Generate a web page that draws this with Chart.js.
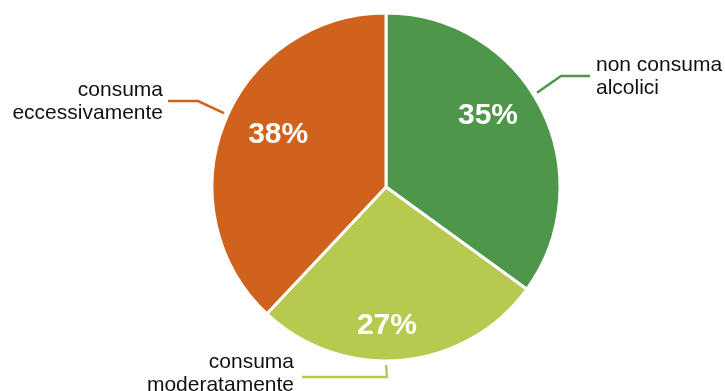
<!DOCTYPE html>
<html>
<head>
<meta charset="utf-8">
<script src="https://cdn.jsdelivr.net/npm/chart.js@4"></script>
<style>
  html, body { margin: 0; padding: 0; background: #fff; }
  #wrap { width: 725px; height: 391px; position: relative; }
</style>
</head>
<body>
<div id="wrap"><canvas id="torta"></canvas></div>
<script>
// dati
var categorie = [['non consuma', 'alcolici'], ['consuma', 'moderatamente'], ['consuma', 'eccessivamente']];
var valori = [35, 27, 38];
var colori = ['#4e974a', '#b8c950', '#d1621e'];

// posizione delle percentuali: spostamento angolare (gradi) e frazione del raggio
var posPercento = [[-8.5, 0.72], [5, 0.79], [4.5, 0.69]];

// richiami esterni, coordinate relative al centro della torta
// ang = punto di partenza sul bordo, gomito, fine, testo (x, baseline riga 1, allineamento)
var richiami = [
    { ang: -32, gomito: [175, -111], fine: [204, -111], testo: [210, -116, 'left'] },
    { ang: 90, gomito: [1, 190], fine: [-84, 190], testo: [-92, 181, 'right'] },
    { ang: 204.5, gomito: [-188, -86], fine: [-218, -86], testo: [-223, -91, 'right'] }
];

var etichettePlugin = {
    id: 'etichette',
    afterDatasetsDraw: function(chart) {
        var ctx = chart.ctx;
        var archi = chart.getDatasetMeta(0).data;
        for (var i = 0; i < archi.length; i++) {
            var a = archi[i];
            var cx = a.x, cy = a.y, r = a.outerRadius;

            // percentuale dentro la fetta
            var medio = (a.startAngle + a.endAngle) / 2 + posPercento[i][0] * Math.PI / 180;
            var rp = r * posPercento[i][1];
            ctx.save();
            ctx.fillStyle = '#ffffff';
            ctx.font = 'bold 30px "Liberation Sans", Arial, sans-serif';
            ctx.textAlign = 'center';
            ctx.textBaseline = 'middle';
            ctx.fillText(valori[i] + '%', cx + Math.cos(medio) * rp, cy + Math.sin(medio) * rp + 1);
            ctx.restore();

            // linea di richiamo
            var c = richiami[i];
            var ang = c.ang * Math.PI / 180;
            ctx.save();
            ctx.strokeStyle = colori[i];
            ctx.lineWidth = 2.5;
            ctx.beginPath();
            ctx.moveTo(cx + Math.cos(ang) * (r + 4), cy + Math.sin(ang) * (r + 4));
            ctx.lineTo(cx + c.gomito[0], cy + c.gomito[1]);
            ctx.lineTo(cx + c.fine[0], cy + c.fine[1]);
            ctx.stroke();

            // testo della categoria
            ctx.fillStyle = '#111111';
            ctx.font = '21px "Liberation Sans", Arial, sans-serif';
            ctx.textAlign = c.testo[2];
            ctx.textBaseline = 'alphabetic';
            for (var k = 0; k < categorie[i].length; k++) {
                ctx.fillText(categorie[i][k], cx + c.testo[0], cy + c.testo[1] + k * 22.5);
            }
            ctx.restore();
        }
    }
};

var ctx = document.getElementById('torta');
var grafico = new Chart(ctx, {
    type: 'pie',
    data: {
        labels: categorie,
        datasets: [{
            data: valori,
            backgroundColor: colori,
            borderColor: '#ffffff',
            borderWidth: 3
        }]
    },
    options: {
        responsive: true,
        maintainAspectRatio: false,
        animation: false,
        radius: 174,
        layout: {
            padding: { left: 213, right: 166, top: 14, bottom: 31 }
        },
        plugins: {
            legend: { display: false },
            tooltip: { enabled: false }
        }
    },
    plugins: [etichettePlugin]
});
</script>
</body>
</html>
